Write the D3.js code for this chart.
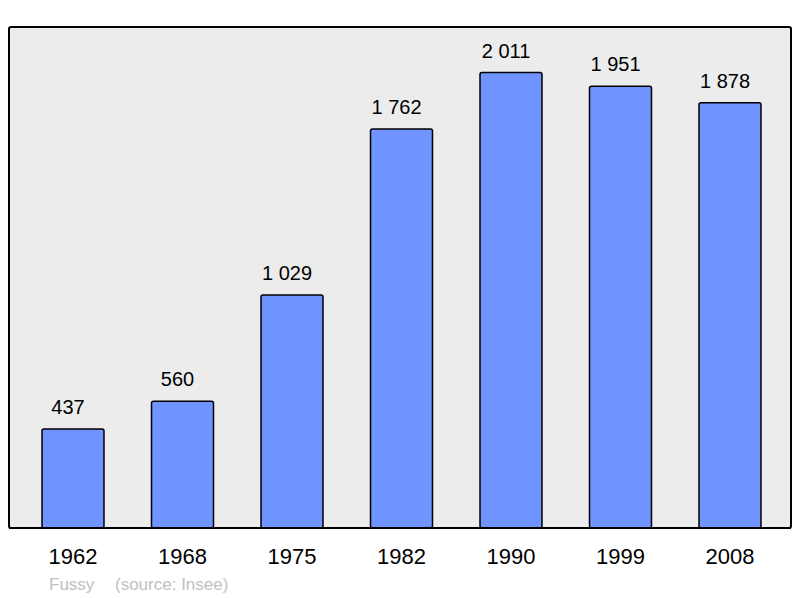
<!DOCTYPE html>
<html>
<head>
<meta charset="utf-8">
<script src="https://cdn.jsdelivr.net/npm/d3@7"></script>
<style>
  body { margin: 0; background: #ffffff; }
  text { font-family: "Liberation Sans", Arial, sans-serif; }
</style>
</head>
<body>
<div id="chart"></div>
<script>
// population data
const years = ["1962", "1968", "1975", "1982", "1990", "1999", "2008"];
const population = [437, 560, 1029, 1762, 2011, 1951, 1878];
const placeName = "Fussy";
const sourceText = "(source: Insee)";

const width = 800, height = 598;
const panel = { left: 9, top: 27, right: 791, bottom: 528 };

const svg = d3.select("#chart").append("svg")
    .attr("width", width)
    .attr("height", height);

// background panel
svg.append("rect")
    .attr("x", panel.left).attr("y", panel.top)
    .attr("width", panel.right - panel.left)
    .attr("height", panel.bottom - panel.top)
    .attr("rx", 2)
    .style("fill", "#ececec")
    .style("stroke", "#000")
    .style("stroke-width", 2);

const x = d3.scaleBand()
    .domain(years)
    .range([18.25, 784.75])
    .paddingInner(0.434)
    .paddingOuter(0.217);

const y = d3.scaleLinear()
    .domain([0, d3.max(population) * 1.1])
    .range([panel.bottom, panel.top]);

const fmt = d3.formatLocale({ decimal: ",", thousands: " ", grouping: [3], currency: ["", ""] }).format(",d");

const data = years.map((yr, i) => ({ year: yr, value: population[i] }));

// bars
svg.selectAll(".bar").data(data).enter().append("rect")
    .attr("class", "bar")
    .attr("x", d => x(d.year))
    .attr("y", d => y(d.value))
    .attr("width", x.bandwidth())
    .attr("height", d => panel.bottom - y(d.value))
    .attr("rx", 2)
    .style("fill", "#7094ff")
    .style("stroke", "#000")
    .style("stroke-width", 1.5);

// value labels (sit a little left of the bar centre, as in the original)
svg.selectAll(".val").data(data).enter().append("text")
    .attr("class", "val")
    .attr("x", d => x(d.year) + x.bandwidth() / 2 - 5)
    .attr("y", d => y(d.value) - 15)
    .attr("text-anchor", "middle")
    .style("font-size", "20px")
    .style("fill", "#000")
    .text(d => fmt(d.value));

// redraw panel border on top of bar bottoms
svg.append("line")
    .attr("x1", panel.left).attr("x2", panel.right)
    .attr("y1", panel.bottom).attr("y2", panel.bottom)
    .style("stroke", "#000").style("stroke-width", 2);

// year axis labels
svg.selectAll(".year").data(years).enter().append("text")
    .attr("class", "year")
    .attr("x", d => x(d) + x.bandwidth() / 2)
    .attr("y", 564)
    .attr("text-anchor", "middle")
    .style("font-size", "22px")
    .style("fill", "#000")
    .text(d => d);

// caption
svg.append("text")
    .attr("x", 49).attr("y", 590)
    .style("font-size", "17px")
    .style("fill", "#c0c0c0")
    .text(placeName);

svg.append("text")
    .attr("x", 115).attr("y", 590)
    .style("font-size", "17px")
    .style("fill", "#c0c0c0")
    .text(sourceText);
</script>
</body>
</html>
